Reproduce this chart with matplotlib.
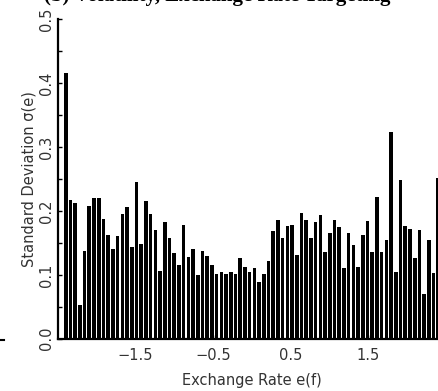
import numpy as np
import matplotlib
matplotlib.use("Agg")
import matplotlib.pyplot as plt
from matplotlib.lines import Line2D

# Standard deviation of exchange rate per bin
sigma = [0.416, 0.217, 0.213, 0.052, 0.138, 0.208, 0.221, 0.221, 0.187, 0.162,
         0.140, 0.161, 0.195, 0.206, 0.144, 0.245, 0.149, 0.216, 0.195, 0.170,
         0.106, 0.182, 0.158, 0.134, 0.115, 0.178, 0.128, 0.141, 0.100, 0.138,
         0.130, 0.115, 0.101, 0.105, 0.101, 0.104, 0.101, 0.126, 0.113, 0.104,
         0.110, 0.089, 0.101, 0.122, 0.168, 0.186, 0.157, 0.177, 0.178, 0.131,
         0.196, 0.186, 0.157, 0.183, 0.194, 0.135, 0.166, 0.186, 0.175, 0.110,
         0.165, 0.147, 0.112, 0.163, 0.184, 0.136, 0.222, 0.135, 0.154, 0.324,
         0.104, 0.248, 0.176, 0.172, 0.126, 0.170, 0.070, 0.154, 0.103, 0.251]
bin_lo, bin_hi = -2.4, 2.4
x_ticks = [-1.5, -0.5, 0.5, 1.5]
x_ticklabels = ["\u22121.5", "\u22120.5", "0.5", "1.5"]
y_ticks = [0.0, 0.1, 0.2, 0.3, 0.4, 0.5]
y_ticklabels = ["0.0", "0.1", "0.2", "0.3", "0.4", "0.5"]
title = "(b) Volatility, Exchange Rate Targeting"

centers = np.linspace(bin_lo, bin_hi, len(sigma))
step = centers[1] - centers[0]

W, H = 438, 391
fig = plt.figure(figsize=(W / 100, H / 100), dpi=100)
ax = fig.add_axes([58 / W, (H - 338.7) / H, (446 - 58) / W, (338.7 - 19.3) / H])

ax.bar(centers, sigma, width=step * 0.78, color="black", edgecolor="none")

ax.set_xlim(-2.5, 2.5)
ax.set_ylim(0, 0.5)
for s in ["top", "right"]:
    ax.spines[s].set_visible(False)
for s in ["left", "bottom"]:
    ax.spines[s].set_linewidth(1.6)

txtc = "#333333"
ax.set_xticks(x_ticks)
ax.set_xticklabels(x_ticklabels, fontsize=10.5, color=txtc)
ax.set_yticks(y_ticks)
ax.set_yticklabels(y_ticklabels, fontsize=10.5, color=txtc)
ax.set_yticks(np.arange(0.05, 0.5, 0.1), minor=True)
ax.tick_params(axis="y", which="both", direction="in", length=3, width=1, pad=3,
               labelrotation=90)
ax.tick_params(axis="x", which="both", direction="in", length=3, width=1, pad=7)
for lbl in ax.get_yticklabels():
    lbl.set_va("center")

ax.set_xlabel("Exchange Rate e(f)", fontsize=10.5, labelpad=7, color=txtc)
ax.set_ylabel("Standard Deviation \u03c3(e)", fontsize=10.5, labelpad=2, color=txtc)

# Title of the panel, almost entirely cut off by the top edge as in the reference
fig.text(0.10, 1.0 - 1 / H, title,
         fontsize=15, fontweight="bold", family="Liberation Serif",
         ha="left", va="baseline")

# small stray mark at the left edge
fig.add_artist(Line2D([0 / W, 4 / W], [(H - 340) / H, (H - 340) / H],
                      color="black", lw=1.5, transform=fig.transFigure))

fig.savefig("out.png", dpi=100)
